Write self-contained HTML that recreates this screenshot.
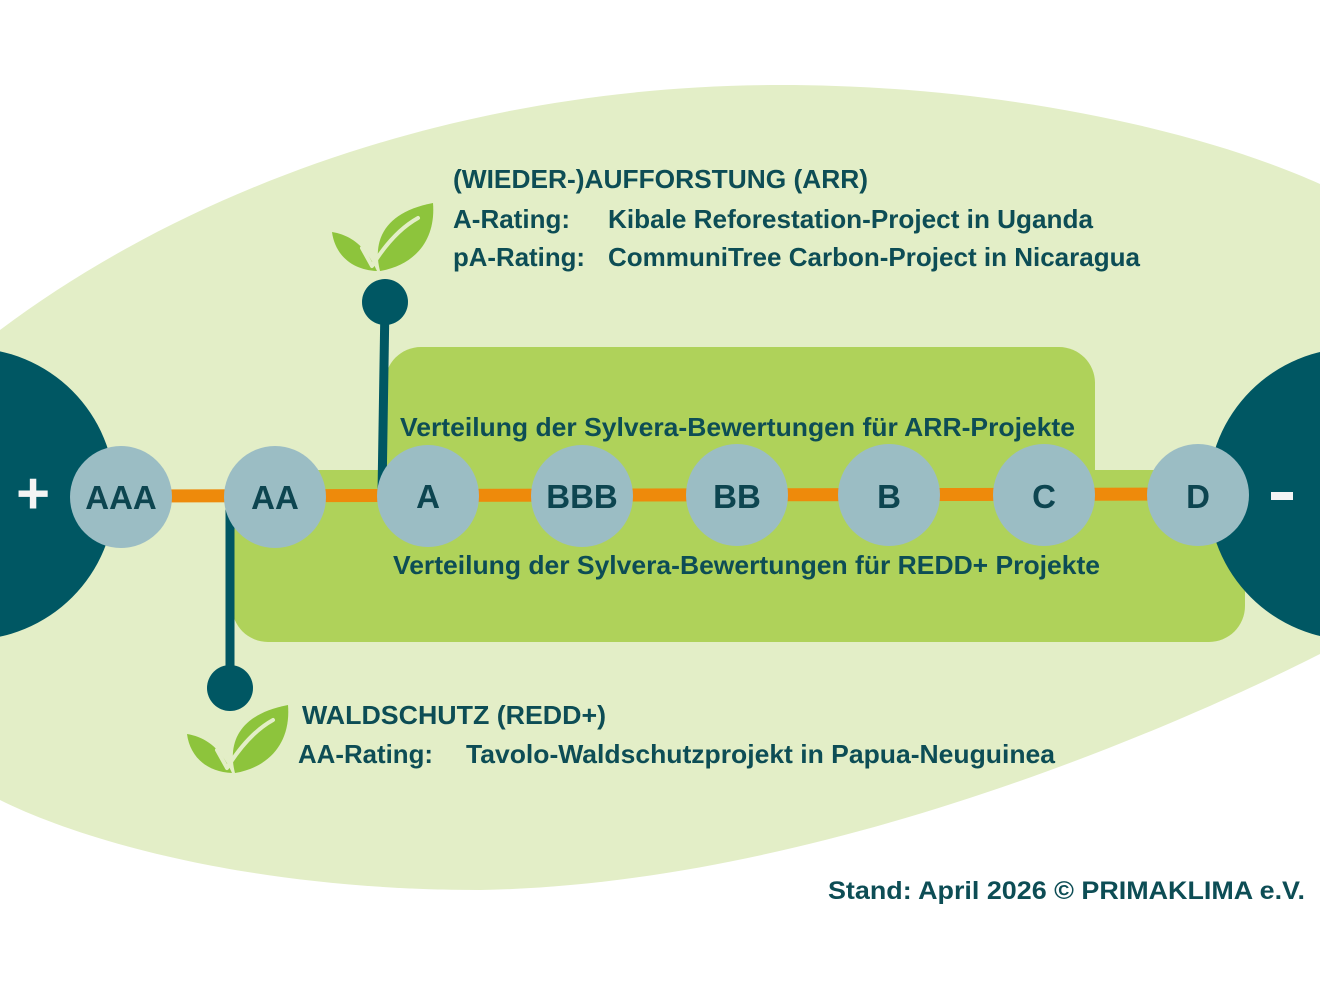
<!DOCTYPE html>
<html><head><meta charset="utf-8"><style>html,body{margin:0;padding:0;background:#fff}svg{display:block}</style></head>
<body>
<svg width="1320" height="990" viewBox="0 0 1320 990" xmlns="http://www.w3.org/2000/svg" font-family="'Liberation Sans', sans-serif" font-weight="bold">
<rect width="1320" height="990" fill="#fff"/>
<path d="M0 330 C 200 180, 480 85, 780 85 C 1000 85, 1200 130, 1320 184 L 1320 654 C 1150 740, 800 885, 480 890 C 250 890, 80 840, 0 800 Z" fill="#E3EEC7"/>
<!-- green boxes -->
<rect x="385" y="347" width="710" height="200" rx="36" fill="#AFD25A"/>
<rect x="232" y="470" width="1013" height="172" rx="36" fill="#AFD25A"/>
<!-- end circles -->
<circle cx="-31" cy="494" r="146" fill="#005763"/>
<circle cx="1354" cy="494" r="146" fill="#005763"/>
<text x="33" y="513" font-size="58" fill="#f4f4f4" text-anchor="middle">+</text>
<rect x="1271" y="492" width="22" height="8" fill="#f4f4f4"/>
<!-- orange line -->
<line x1="121" y1="496" x2="1198" y2="494" stroke="#EE8A0B" stroke-width="13"/>
<!-- stems -->
<line x1="385" y1="302" x2="382" y2="494" stroke="#005763" stroke-width="9"/>
<circle cx="385" cy="302" r="23" fill="#005763"/>
<line x1="230" y1="500" x2="230" y2="688" stroke="#005763" stroke-width="9"/>
<circle cx="230" cy="688" r="23" fill="#005763"/>
<!-- rating circles -->
<g fill="#9BBDC4">
<circle cx="121" cy="497" r="51"/><circle cx="275" cy="497" r="51"/><circle cx="428" cy="496" r="51"/><circle cx="582" cy="496" r="51"/><circle cx="737" cy="495" r="51"/><circle cx="889" cy="495" r="51"/><circle cx="1044" cy="495" r="51"/><circle cx="1198" cy="495" r="51"/>
</g>
<g fill="#0D4550" font-size="33" text-anchor="middle">
<text x="121" y="509">AAA</text><text x="275" y="509">AA</text><text x="428" y="508">A</text><text x="582" y="508">BBB</text><text x="737" y="508">BB</text><text x="889" y="508">B</text><text x="1044" y="508">C</text><text x="1198" y="508">D</text>
</g>
<!-- leaves -->
<g>
<path d="M380 271 C 372 240, 385 212, 433 203 C 436 240, 415 265, 380 271 Z" fill="#8DC43C"/>
<path d="M377 271 C 365 245, 350 235, 332 232 C 335 255, 352 270, 377 271 Z" fill="#8DC43C"/>
<path d="M372 266 L 362 248 M372 266 C 385 245, 400 228, 418 218" stroke="#E3EEC7" stroke-width="4" fill="none" stroke-linecap="round"/>
</g>
<g transform="translate(-145 502)">
<path d="M380 271 C 372 240, 385 212, 433 203 C 436 240, 415 265, 380 271 Z" fill="#8DC43C"/>
<path d="M377 271 C 365 245, 350 235, 332 232 C 335 255, 352 270, 377 271 Z" fill="#8DC43C"/>
<path d="M372 266 L 362 248 M372 266 C 385 245, 400 228, 418 218" stroke="#E3EEC7" stroke-width="4" fill="none" stroke-linecap="round"/>
</g>
<!-- texts -->
<g fill="#0D4D55" font-size="26">
<text x="453" y="188" textLength="415" lengthAdjust="spacingAndGlyphs">(WIEDER-)AUFFORSTUNG (ARR)</text>
<text x="453" y="228" textLength="117" lengthAdjust="spacingAndGlyphs">A-Rating:</text>
<text x="608" y="228" textLength="485" lengthAdjust="spacingAndGlyphs">Kibale Reforestation-Project in Uganda</text>
<text x="453" y="266" textLength="132" lengthAdjust="spacingAndGlyphs">pA-Rating:</text>
<text x="608" y="266" textLength="532" lengthAdjust="spacingAndGlyphs">CommuniTree Carbon-Project in Nicaragua</text>
<text x="400" y="436" textLength="675" lengthAdjust="spacingAndGlyphs">Verteilung der Sylvera-Bewertungen für ARR-Projekte</text>
<text x="393" y="574" textLength="707" lengthAdjust="spacingAndGlyphs">Verteilung der Sylvera-Bewertungen für REDD+ Projekte</text>
<text x="302" y="724" textLength="304" lengthAdjust="spacingAndGlyphs">WALDSCHUTZ (REDD+)</text>
<text x="298" y="763" textLength="135" lengthAdjust="spacingAndGlyphs">AA-Rating:</text>
<text x="466" y="763" textLength="589" lengthAdjust="spacingAndGlyphs">Tavolo-Waldschutzprojekt in Papua-Neuguinea</text>
<text x="828" y="899" font-size="25" textLength="477" lengthAdjust="spacingAndGlyphs">Stand: April 2026 © PRIMAKLIMA e.V.</text>
</g>
</svg>
</body></html>
